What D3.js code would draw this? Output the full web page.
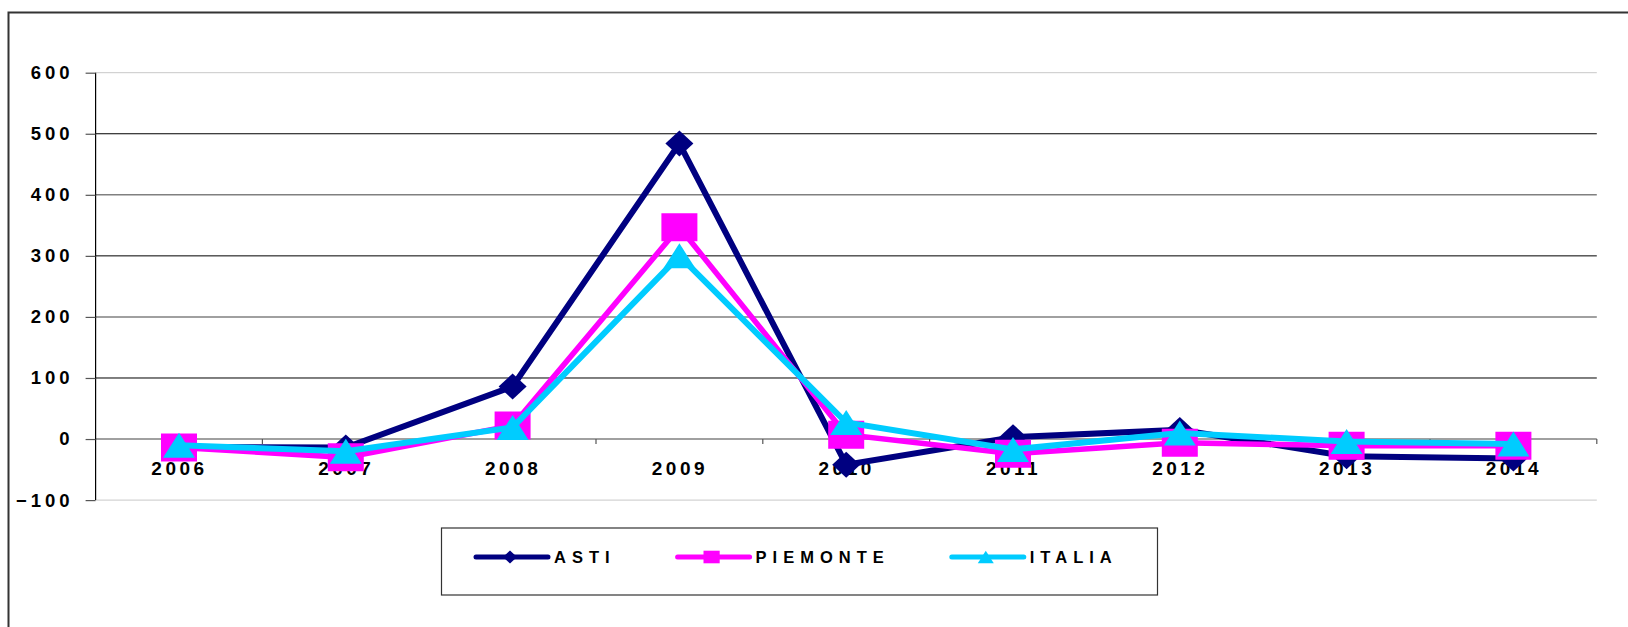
<!DOCTYPE html>
<html>
<head>
<meta charset="utf-8">
<script src="https://cdn.jsdelivr.net/npm/d3@7"></script>
<style>
  html, body { margin: 0; padding: 0; background: #fff; }
  svg { display: block; }
  text { font-family: "Liberation Sans", Arial, sans-serif; font-weight: bold; fill: #000; }
</style>
</head>
<body>
<svg id="chart" width="1628" height="627"></svg>
<script>
// ---- data ----
const years = ["2006", "2007", "2008", "2009", "2010", "2011", "2012", "2013", "2014"];
const asti = [-13, -14, 86, 484, -42, 3, 15, -28, -32];
const piemonte = [-14, -30, 22, 347, 7, -24, -6, -11, -11];
const italia = [-10, -20, 19, 300, 27, -17, 10, -4, -8];
const seriesNames = ["ASTI", "PIEMONTE", "ITALIA"];
const yTicks = [-100, 0, 100, 200, 300, 400, 500, 600];

const seriesList = [
  { name: seriesNames[0], values: asti, color: "#000080", marker: "diamond", width: 6 },
  { name: seriesNames[1], values: piemonte, color: "#FF00FF", marker: "square", width: 5.5 },
  { name: seriesNames[2], values: italia, color: "#00CCFF", marker: "triangle", width: 6 }
];

const svg = d3.select("#chart");

// outer frame
svg.append("rect")
  .attr("x", 8.5).attr("y", 12.5)
  .attr("width", 1700).attr("height", 700)
  .attr("fill", "none").attr("stroke", "#333").attr("stroke-width", 2);

const plot = { left: 95.6, right: 1596.8, top: 72.7, bottom: 500.1 };

const x = d3.scaleBand().domain(years).range([plot.left, plot.right]).padding(0);
const y = d3.scaleLinear().domain([-100, 600]).range([plot.bottom, plot.top]);
const cx = d => x(d) + x.bandwidth() / 2;

// gridlines
const gridStyle = v => {
  if (v === 600 || v === -100) return { c: "#c8c8c8", w: 1 };
  if (v === 0) return { c: "#808080", w: 1.5 };
  return (v % 200 === 0) ? { c: "#808080", w: 1.6 } : { c: "#000", w: 1 };
};
const grid = svg.append("g");
yTicks.forEach(v => {
  const s = gridStyle(v);
  grid.append("line")
    .attr("x1", plot.left).attr("x2", plot.right)
    .attr("y1", y(v)).attr("y2", y(v))
    .attr("stroke", s.c).attr("stroke-width", s.w);
});

// y axis
const yAxis = d3.axisLeft(y).tickValues(yTicks).tickSize(10).tickPadding(12).tickFormat(d3.format("d"));
const yg = svg.append("g").attr("transform", `translate(${plot.left},0)`).call(yAxis);
yg.select(".domain").attr("stroke", "#000").attr("stroke-width", 1.2).attr("d", `M0,${plot.top}V${plot.bottom}`);
yg.selectAll(".tick line").attr("stroke", "#555").attr("stroke-width", 1.2);
yg.selectAll(".tick text")
  .style("font-family", '"Liberation Sans", Arial, sans-serif')
  .style("font-weight", "bold").style("font-size", "18.5px")
  .style("letter-spacing", "4px").attr("fill", "#000");

// x axis on zero line
const xg = svg.append("g").attr("transform", `translate(0,${y(0)})`);
const boundaries = years.map(d => x(d)).concat([plot.right]);
xg.selectAll("line.xt").data(boundaries.slice(1)).join("line")
  .attr("class", "xt")
  .attr("x1", d => d).attr("x2", d => d)
  .attr("y1", 0).attr("y2", 5)
  .attr("stroke", "#555").attr("stroke-width", 1.2);
xg.selectAll("text.xl").data(years).join("text")
  .attr("class", "xl")
  .attr("x", d => cx(d) + 0.5)
  .attr("y", 36)
  .attr("text-anchor", "middle")
  .style("font-size", "19px")
  .style("letter-spacing", "3.5px")
  .text(d => d);

// marker path generators
function markerPath(type, s) {
  if (type === "diamond") {
    const w = 14 * s, h = 13 * s;
    return `M0,${-h}L${w},0L0,${h}L${-w},0Z`;
  }
  if (type === "square") {
    const w = 18 * s, h = 14 * s;
    return `M${-w},${-h}H${w}V${h}H${-w}Z`;
  }
  // triangle
  const w = 16 * s, h = 12.5 * s;
  return `M0,${-h}L${w},${h}L${-w},${h}Z`;
}

const line = d3.line().x((d, i) => cx(years[i])).y(d => y(d));

// series: line then markers
seriesList.forEach(s => {
  const g = svg.append("g");
  g.append("path")
    .datum(s.values)
    .attr("d", line)
    .attr("fill", "none")
    .attr("stroke", s.color)
    .attr("stroke-width", s.width)
    .attr("stroke-linejoin", "miter");
  g.selectAll("path.mk").data(s.values).join("path")
    .attr("class", "mk")
    .attr("transform", (d, i) => `translate(${cx(years[i])},${y(d)})`)
    .attr("d", markerPath(s.marker, 1))
    .attr("fill", s.color);
});

// legend
const legend = svg.append("g").attr("transform", "translate(441,527.5)");
legend.append("rect")
  .attr("x", 0.5).attr("y", 0.5).attr("width", 716).attr("height", 67)
  .attr("fill", "#fff").attr("stroke", "#333").attr("stroke-width", 1.2);
let lx = 35;
const ly = 29.5;
seriesList.forEach(s => {
  const it = legend.append("g");
  it.append("line")
    .attr("x1", lx).attr("x2", lx + 72)
    .attr("y1", ly).attr("y2", ly)
    .attr("stroke", s.color).attr("stroke-width", 5)
    .attr("stroke-linecap", "round");
  it.append("path")
    .attr("transform", `translate(${lx + 34},${ly})`)
    .attr("d", markerPath(s.marker, s.marker === "square" ? 0.45 : 0.5))
    .attr("fill", s.color);
  const t = it.append("text")
    .attr("x", lx + 78)
    .attr("y", ly + 6)
    .style("font-size", "16.5px")
    .style("letter-spacing", "6px")
    .text(s.name);
  const bb = t.node().getBBox();
  lx = bb.x + bb.width + 62;
});
</script>
</body>
</html>
